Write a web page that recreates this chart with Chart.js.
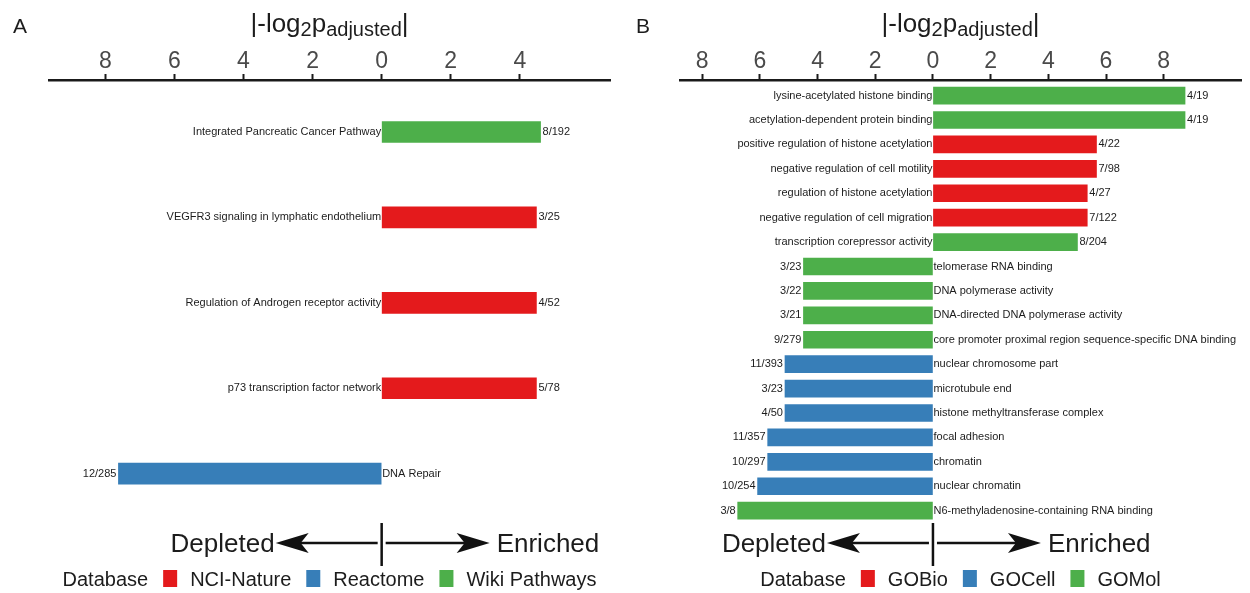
<!DOCTYPE html>
<html>
<head>
<meta charset="utf-8">
<title>Enrichment of pathways and GO terms</title>
<script src="https://cdn.jsdelivr.net/npm/chart.js@4.4.1/dist/chart.umd.min.js"></script>
<style>
  html, body { margin: 0; padding: 0; background: #ffffff; }
  #wrap { position: relative; width: 1250px; height: 593px; overflow: hidden; }
  #wrap canvas { position: absolute; top: 0; }
</style>
</head>
<body>
<div id="wrap">
  <canvas id="panelA" width="625" height="593" style="left:0px"></canvas>
  <canvas id="panelB" width="625" height="593" style="left:625px"></canvas>
</div>
<script>
// ---- Panel A: pathway databases (positive = enriched, negative = depleted) ----
const termsA = [
  'Integrated Pancreatic Cancer Pathway',
  'VEGFR3 signaling in lymphatic endothelium',
  'Regulation of Androgen receptor activity',
  'p73 transcription factor network',
  'DNA Repair'
];
const scoresA = [4.60, 4.48, 4.48, 4.48, -7.62];
const countsA = ['8/192', '3/25', '4/52', '5/78', '12/285'];
const sourcesA = ['Wiki Pathways', 'NCI-Nature', 'NCI-Nature', 'NCI-Nature', 'Reactome'];
const databasesA = ['NCI-Nature', 'Reactome', 'Wiki Pathways'];
const ticksA = [-8, -6, -4, -2, 0, 2, 4];

// ---- Panel B: GO categories ----
const termsB = [
  'lysine-acetylated histone binding',
  'acetylation-dependent protein binding',
  'positive regulation of histone acetylation',
  'negative regulation of cell motility',
  'regulation of histone acetylation',
  'negative regulation of cell migration',
  'transcription corepressor activity',
  'telomerase RNA binding',
  'DNA polymerase activity',
  'DNA-directed DNA polymerase activity',
  'core promoter proximal region sequence-specific DNA binding',
  'nuclear chromosome part',
  'microtubule end',
  'histone methyltransferase complex',
  'focal adhesion',
  'chromatin',
  'nuclear chromatin',
  'N6-methyladenosine-containing RNA binding'
];
const scoresB = [8.74, 8.74, 5.67, 5.67, 5.35, 5.35, 5.01,
                 -4.49, -4.49, -4.49, -4.49,
                 -5.13, -5.13, -5.13, -5.73, -5.73, -6.08, -6.77];
const countsB = ['4/19', '4/19', '4/22', '7/98', '4/27', '7/122', '8/204',
                 '3/23', '3/22', '3/21', '9/279',
                 '11/393', '3/23', '4/50', '11/357', '10/297', '10/254', '3/8'];
const sourcesB = ['GOMol', 'GOMol', 'GOBio', 'GOBio', 'GOBio', 'GOBio', 'GOMol',
                  'GOMol', 'GOMol', 'GOMol', 'GOMol',
                  'GOCell', 'GOCell', 'GOCell', 'GOCell', 'GOCell', 'GOCell', 'GOMol'];
const databasesB = ['GOBio', 'GOCell', 'GOMol'];
const ticksB = [-8, -6, -4, -2, 0, 2, 4, 6, 8];

// one colour per database, in legend order
const palette = ['#E41A1C', '#377EB8', '#4DAF4A'];

const FONT = '"Liberation Sans", Arial, Helvetica, sans-serif';
const INK = '#1c1c1c';

function buildPanel(canvasId, panel) {
  const colorOf = name => palette[panel.databases.indexOf(name)];

  // term names beside the zero line, gene counts at the bar ends
  const barText = {
    id: 'barText',
    afterDatasetsDraw(chart) {
      const ctx = chart.ctx;
      const meta = chart.getDatasetMeta(0);
      ctx.save();
      ctx.font = '11px ' + FONT;
      ctx.fillStyle = INK;
      ctx.textBaseline = 'middle';
      meta.data.forEach((bar, i) => {
        const p = bar.getProps(['x', 'y', 'base'], true);
        if (panel.scores[i] >= 0) {
          ctx.textAlign = 'right';
          ctx.fillText(panel.terms[i], p.base - 1, p.y);
          ctx.textAlign = 'left';
          ctx.fillText(panel.counts[i], p.x + 2, p.y);
        } else {
          ctx.textAlign = 'right';
          ctx.fillText(panel.counts[i], p.x - 2, p.y);
          ctx.textAlign = 'left';
          ctx.fillText(panel.terms[i], p.base + 1, p.y);
        }
      });
      ctx.restore();
    }
  };

  // panel letter, axis title, direction arrows and database legend
  const decorations = {
    id: 'decorations',
    afterDraw(chart) {
      const ctx = chart.ctx;
      const area = chart.chartArea;
      const xs = chart.scales.x;
      const cx = (area.left + area.right) / 2;
      ctx.save();
      ctx.fillStyle = INK;
      ctx.textBaseline = 'alphabetic';

      // panel letter
      ctx.font = '21px ' + FONT;
      ctx.textAlign = 'left';
      ctx.fillText(panel.letter, panel.letterX, 33);

      // axis title |-log2 p_adjusted|
      const parts = [
        { t: '|-log', size: 26, dy: 0 },
        { t: '2', size: 20, dy: 4 },
        { t: 'p', size: 26, dy: 0 },
        { t: 'adjusted', size: 20, dy: 4 },
        { t: '|', size: 26, dy: 0 }
      ];
      let total = 0;
      parts.forEach(pt => { ctx.font = pt.size + 'px ' + FONT; pt.w = ctx.measureText(pt.t).width; total += pt.w; });
      let tx = cx - total / 2;
      parts.forEach(pt => {
        ctx.font = pt.size + 'px ' + FONT;
        ctx.fillText(pt.t, tx, 32 + pt.dy);
        tx += pt.w;
      });

      // depleted / enriched arrows around zero
      const x0 = xs.getPixelForValue(0);
      const ay = 543;
      ctx.strokeStyle = '#111111';
      ctx.fillStyle = '#111111';
      ctx.lineWidth = 2.5;
      ctx.beginPath();
      ctx.moveTo(x0, 523); ctx.lineTo(x0, 566);
      ctx.stroke();
      const leftTip = x0 - 106, rightTip = x0 + 108;
      ctx.beginPath();
      ctx.moveTo(x0 - 4, ay); ctx.lineTo(leftTip + 22, ay);
      ctx.moveTo(x0 + 4, ay); ctx.lineTo(rightTip - 22, ay);
      ctx.stroke();
      const head = (tip, dir) => {
        ctx.beginPath();
        ctx.moveTo(tip, ay);
        ctx.lineTo(tip + dir * 33, ay - 10);
        ctx.lineTo(tip + dir * 25, ay);
        ctx.lineTo(tip + dir * 33, ay + 10);
        ctx.closePath();
        ctx.fill();
      };
      head(leftTip, 1);
      head(rightTip, -1);
      ctx.fillStyle = INK;
      ctx.font = '26px ' + FONT;
      ctx.textAlign = 'right';
      ctx.fillText('Depleted', leftTip - 1, 552);
      ctx.textAlign = 'left';
      ctx.fillText('Enriched', rightTip + 7, 552);

      // legend: "Database" followed by coloured keys
      ctx.font = '20px ' + FONT;
      ctx.textAlign = 'left';
      const gapText = 15, key = 14, gapKey = 13;
      let width = ctx.measureText('Database').width;
      panel.databases.forEach(d => { width += gapText + key + gapKey + ctx.measureText(d).width; });
      let lx = cx - width / 2;
      ctx.fillText('Database', lx, 586);
      lx += ctx.measureText('Database').width;
      panel.databases.forEach((d, i) => {
        lx += gapText;
        ctx.fillStyle = palette[i];
        ctx.fillRect(lx, 570, key, 17);
        lx += key + gapKey;
        ctx.fillStyle = INK;
        ctx.fillText(d, lx, 586);
        lx += ctx.measureText(d).width;
      });
      ctx.restore();
    }
  };

  return new Chart(document.getElementById(canvasId), {
    type: 'bar',
    data: {
      datasets: [{
        data: panel.scores.map((v, i) => ({ x: v, y: i })),
        backgroundColor: panel.sources.map(colorOf),
        borderWidth: 0,
        barThickness: panel.barThickness
      }]
    },
    options: {
      indexAxis: 'y',
      responsive: false,
      animation: false,
      devicePixelRatio: 1,
      layout: { padding: { left: panel.padLeft, right: panel.padRight, top: 0, bottom: 73 } },
      plugins: { legend: { display: false }, tooltip: { enabled: false }, title: { display: false } },
      scales: {
        x: {
          type: 'linear',
          position: 'top',
          min: panel.xMin,
          max: panel.xMax,
          afterBuildTicks: s => { s.ticks = panel.ticks.map(v => ({ value: v })); },
          afterFit: s => { s.height = 80; },
          ticks: {
            callback: v => String(Math.abs(v)),
            font: { family: FONT, size: 23, lineHeight: 1 },
            color: '#4a4a4a',
            padding: 1,
            maxRotation: 0,
            autoSkip: false
          },
          grid: {
            drawOnChartArea: false,
            drawTicks: true,
            tickLength: 6,
            tickColor: '#1a1a1a',
            tickWidth: 2
          },
          border: { display: true, color: '#1a1a1a', width: 2.5 }
        },
        y: {
          type: 'linear',
          reverse: true,
          offset: false,
          bounds: 'data',
          min: panel.yMin,
          max: panel.yMax,
          display: false
        }
      }
    },
    plugins: [barText, decorations]
  });
}

buildPanel('panelA', {
  letter: 'A', letterX: 13,
  terms: termsA, scores: scoresA, counts: countsA, sources: sourcesA,
  databases: databasesA, ticks: ticksA,
  xMin: -9.63, xMax: 6.61, yMin: -0.609, yMax: 4.542,
  padLeft: 49, padRight: 15, barThickness: 21
});

buildPanel('panelB', {
  letter: 'B', letterX: 11,
  terms: termsB, scores: scoresB, counts: countsB, sources: sourcesB,
  databases: databasesB, ticks: ticksB,
  xMin: -8.77, xMax: 10.68, yMin: -0.639, yMax: 17.381,
  padLeft: 55, padRight: 9, barThickness: 17
});
</script>
</body>
</html>
